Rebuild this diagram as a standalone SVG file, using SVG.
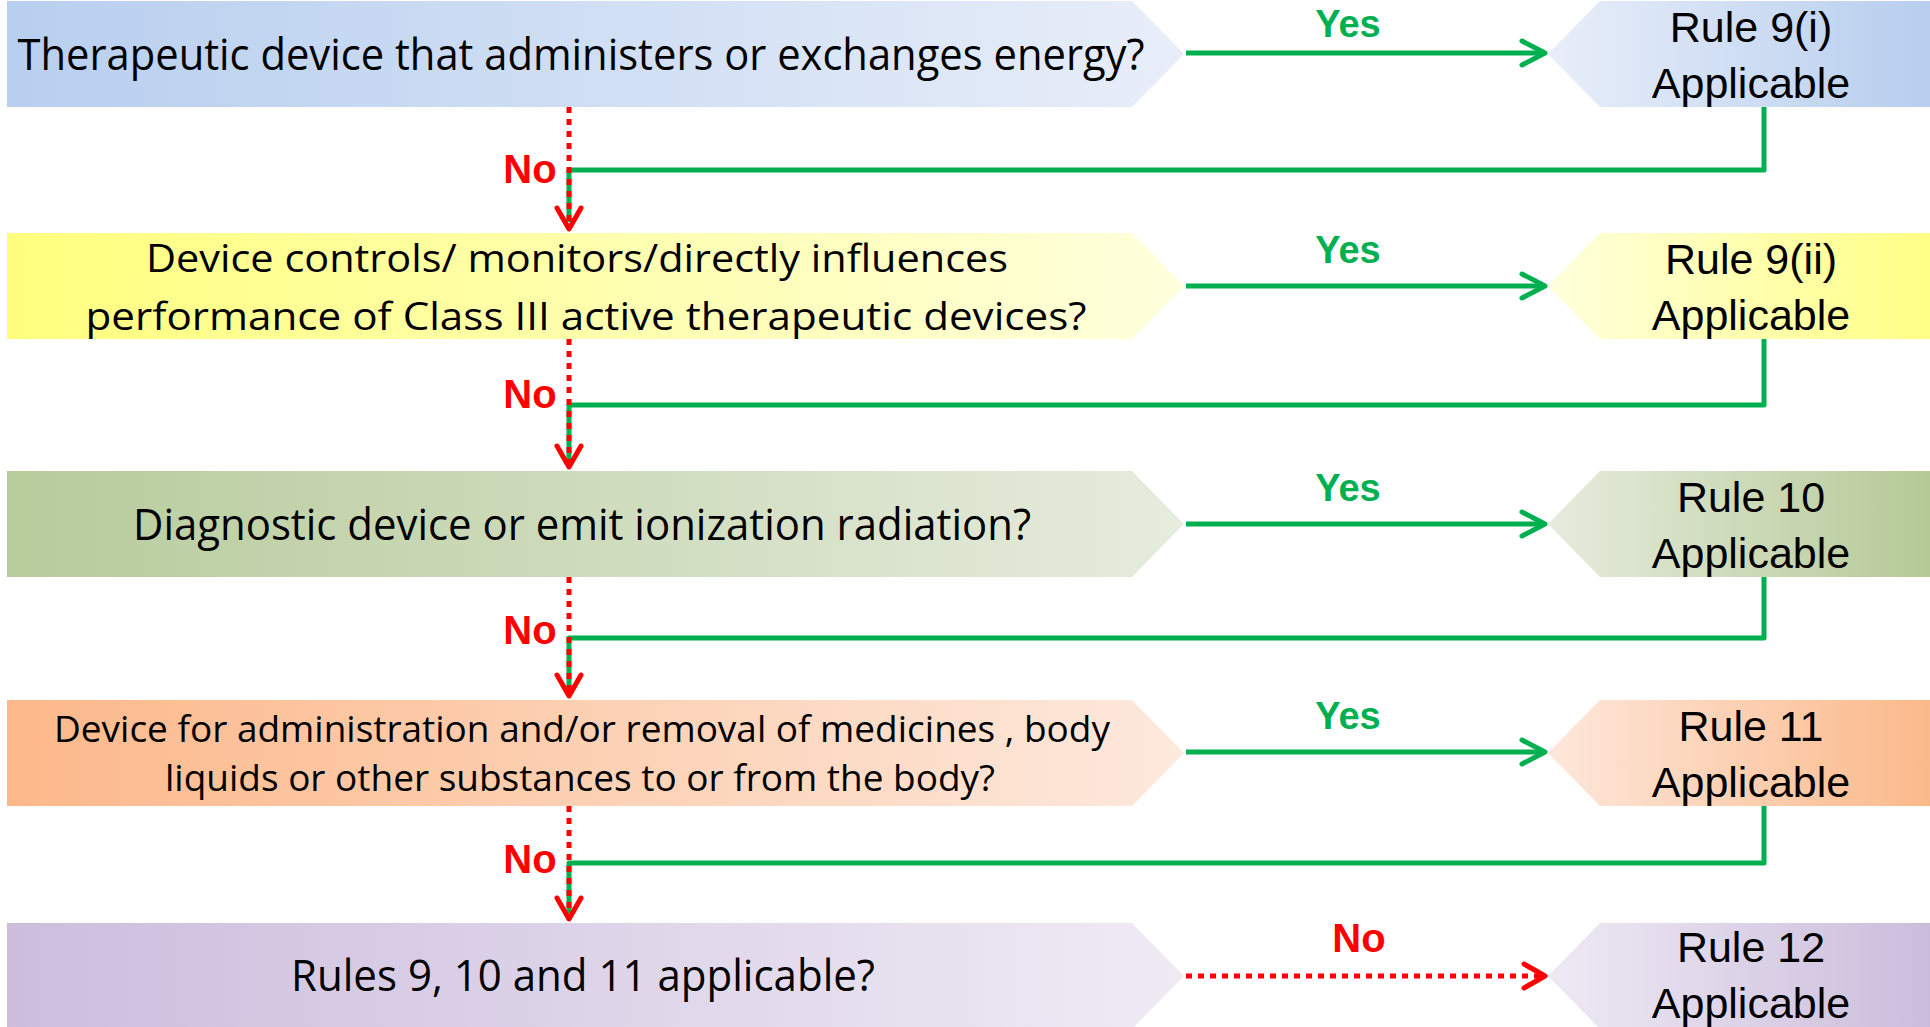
<svg xmlns="http://www.w3.org/2000/svg" width="1930" height="1027" viewBox="0 0 1930 1027">
<defs>
<linearGradient id="gL1" x1="0" y1="0" x2="1" y2="0"><stop offset="0" stop-color="#B8CFEF"/><stop offset="1" stop-color="#E8EEF9"/></linearGradient>
<linearGradient id="gR1" x1="0" y1="0" x2="1" y2="0"><stop offset="0" stop-color="#E8EEF9"/><stop offset="1" stop-color="#B7CEEE"/></linearGradient>
<linearGradient id="gL2" x1="0" y1="0" x2="1" y2="0"><stop offset="0" stop-color="#FFFF7E"/><stop offset="1" stop-color="#FFFFDD"/></linearGradient>
<linearGradient id="gR2" x1="0" y1="0" x2="1" y2="0"><stop offset="0" stop-color="#FFFFDD"/><stop offset="1" stop-color="#FFFF86"/></linearGradient>
<linearGradient id="gL3" x1="0" y1="0" x2="1" y2="0"><stop offset="0" stop-color="#B7CB9B"/><stop offset="1" stop-color="#E6ECDE"/></linearGradient>
<linearGradient id="gR3" x1="0" y1="0" x2="1" y2="0"><stop offset="0" stop-color="#E6ECDE"/><stop offset="1" stop-color="#B5C996"/></linearGradient>
<linearGradient id="gL4" x1="0" y1="0" x2="1" y2="0"><stop offset="0" stop-color="#FCB88A"/><stop offset="1" stop-color="#FDE9DD"/></linearGradient>
<linearGradient id="gR4" x1="0" y1="0" x2="1" y2="0"><stop offset="0" stop-color="#FDE7DB"/><stop offset="1" stop-color="#FBB98A"/></linearGradient>
<linearGradient id="gL5" x1="0" y1="0" x2="1" y2="0"><stop offset="0" stop-color="#CCBDDD"/><stop offset="1" stop-color="#EFEBF5"/></linearGradient>
<linearGradient id="gR5" x1="0" y1="0" x2="1" y2="0"><stop offset="0" stop-color="#EEEAF4"/><stop offset="1" stop-color="#CBBCDC"/></linearGradient>
</defs>
<style>
.q{font-family:"Open Sans","Noto Sans",sans-serif;fill:#000;text-anchor:middle}
.r{font-family:"Liberation Sans",Arial,sans-serif;font-size:43px;fill:#000;text-anchor:middle}
.yes{font-family:"Liberation Sans",Arial,sans-serif;font-weight:bold;font-size:38px;fill:#00B050;text-anchor:middle}
.no{font-family:"Liberation Sans",Arial,sans-serif;font-weight:bold;font-size:40px;fill:#FF0000;text-anchor:middle}
.g{stroke:#00B050;stroke-width:5;fill:none;stroke-linecap:butt;stroke-linejoin:round}
.gh{stroke:#00B050;stroke-width:5;fill:none;stroke-linecap:round;stroke-linejoin:round}
.rd{stroke:#FF0000;stroke-width:5;fill:none;stroke-dasharray:6 6}
.rh{stroke:#FF0000;stroke-width:5;fill:none;stroke-linecap:round;stroke-linejoin:round}
</style>

<g id="q1">
<path d="M7,1 H1132 L1184,54 L1132,107 H7 Z" fill="url(#gL1)"/>
<text class="q" x="581" y="70" font-size="43" textLength="1127" lengthAdjust="spacingAndGlyphs">Therapeutic device that administers or exchanges energy?</text>
</g>
<g id="r1">
<path d="M1548,54 L1600,1 H1930 V107 H1600 Z" fill="url(#gR1)"/>
<text class="r" x="1751" y="42">Rule 9(i)</text>
<text class="r" x="1751" y="98">Applicable</text>
</g>

<g id="q2">
<path d="M7,233 H1132 L1184,286 L1132,339 H7 Z" fill="url(#gL2)"/>
<text class="q" x="577" y="272" font-size="39" textLength="862" lengthAdjust="spacingAndGlyphs">Device controls/ monitors/directly influences</text>
<text class="q" x="586" y="330" font-size="39" textLength="1001" lengthAdjust="spacingAndGlyphs">performance of Class III active therapeutic devices?</text>
</g>
<g id="r2">
<path d="M1548,286 L1600,233 H1930 V339 H1600 Z" fill="url(#gR2)"/>
<text class="r" x="1751" y="274">Rule 9(ii)</text>
<text class="r" x="1751" y="330">Applicable</text>
</g>

<g id="q3">
<path d="M7,471 H1132 L1184,524 L1132,577 H7 Z" fill="url(#gL3)"/>
<text class="q" x="582" y="540" font-size="43" textLength="898" lengthAdjust="spacingAndGlyphs">Diagnostic device or emit ionization radiation?</text>
</g>
<g id="r3">
<path d="M1548,524 L1600,471 H1930 V577 H1600 Z" fill="url(#gR3)"/>
<text class="r" x="1751" y="512">Rule 10</text>
<text class="r" x="1751" y="568">Applicable</text>
</g>

<g id="q4">
<path d="M7,700 H1132 L1184,753 L1132,806 H7 Z" fill="url(#gL4)"/>
<text class="q" x="582" y="742" font-size="37" textLength="1056" lengthAdjust="spacingAndGlyphs">Device for administration and/or removal of medicines , body</text>
<text class="q" x="580" y="791" font-size="37" textLength="830" lengthAdjust="spacingAndGlyphs">liquids or other substances to or from the body?</text>
</g>
<g id="r4">
<path d="M1548,753 L1600,700 H1930 V806 H1600 Z" fill="url(#gR4)"/>
<text class="r" x="1751" y="741">Rule 11</text>
<text class="r" x="1751" y="797">Applicable</text>
</g>

<g id="q5">
<path d="M7,923 H1132 L1184,976 L1132,1029 H7 Z" fill="url(#gL5)"/>
<text class="q" x="583" y="991" font-size="43" textLength="584" lengthAdjust="spacingAndGlyphs">Rules 9, 10 and 11 applicable?</text>
</g>
<g id="r5">
<path d="M1548,976 L1600,923 H1930 V1029 H1600 Z" fill="url(#gR5)"/>
<text class="r" x="1751" y="962">Rule 12</text>
<text class="r" x="1751" y="1018">Applicable</text>
</g>

<g id="connectors">
<line class="g" x1="1186" y1="53" x2="1544" y2="53"/>
<polyline class="gh" points="1522,41 1545,53 1522,65"/>
<line class="g" x1="1186" y1="286" x2="1544" y2="286"/>
<polyline class="gh" points="1522,274 1545,286 1522,298"/>
<line class="g" x1="1186" y1="524" x2="1544" y2="524"/>
<polyline class="gh" points="1522,512 1545,524 1522,536"/>
<line class="g" x1="1186" y1="752" x2="1544" y2="752"/>
<polyline class="gh" points="1522,740 1545,752 1522,764"/>
<polyline class="g" points="1764,107 1764,170 569,170 569,222"/>
<polyline class="g" points="1764,339 1764,405 569,405 569,460"/>
<polyline class="g" points="1764,577 1764,638 569,638 569,690"/>
<polyline class="g" points="1764,806 1764,863 569,863 569,913"/>
<line class="rd" x1="569" y1="107" x2="569" y2="226"/>
<polyline class="rh" points="557,208 569,229 581,208"/>
<line class="rd" x1="569" y1="339" x2="569" y2="464"/>
<polyline class="rh" points="557,446 569,467 581,446"/>
<line class="rd" x1="569" y1="577" x2="569" y2="693"/>
<polyline class="rh" points="557,675 569,696 581,675"/>
<line class="rd" x1="569" y1="806" x2="569" y2="916"/>
<polyline class="rh" points="557,898 569,919 581,898"/>
<line class="rd" x1="1186" y1="976" x2="1542" y2="976"/>
<polyline class="rh" points="1524,964 1545,976 1524,988"/>
</g>

<g id="labels">
<text class="yes" x="1348" y="37">Yes</text>
<text class="yes" x="1348" y="263">Yes</text>
<text class="yes" x="1348" y="501">Yes</text>
<text class="yes" x="1348" y="729">Yes</text>
<text class="no" x="1359" y="952">No</text>
<text class="no" x="530" y="183">No</text>
<text class="no" x="530" y="408">No</text>
<text class="no" x="530" y="644">No</text>
<text class="no" x="530" y="873">No</text>
</g>
</svg>
